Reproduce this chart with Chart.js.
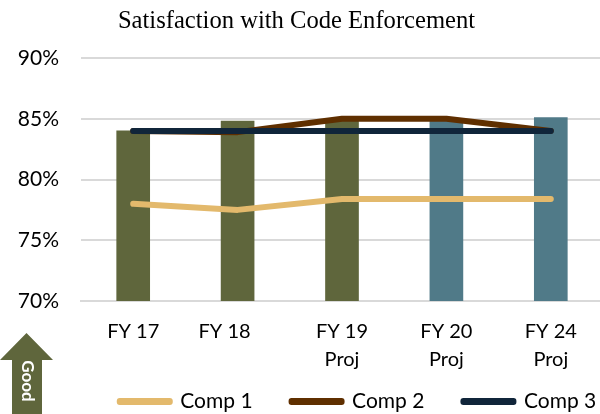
<!DOCTYPE html>
<html><head><meta charset="utf-8">
<style>html,body{margin:0;padding:0;background:#fff;overflow:hidden;width:600px;height:414px}
canvas{position:absolute;left:-10px;top:0}</style>
<script src="https://cdn.jsdelivr.net/npm/chart.js@4"></script>
</head><body>
<canvas id="c" width="613" height="414"></canvas>
<script>
const categories=[["FY 17"],["FY 18"],["FY 19","Proj"],["FY 20","Proj"],["FY 24","Proj"]];
const actual=[84,84.8,85,84.8,85.1];
const comp1=[78,77.5,78.4,78.4,78.4];
const comp2=[84,83.9,85,85,84];
const comp3=[84,84,84,84,84];
const tickLabels=["70%","75%","80%","85%","90%"];
const barColors=["#5f663c","#5f663c","#5f663c","#507a88","#507a88"];
const lineDs=(label,data,color,order)=>({type:'line',label,data,borderColor:color,backgroundColor:color,borderWidth:6,borderCapStyle:'round',borderJoinStyle:'round',pointRadius:0,tension:0,order,clip:false});
const goodArrow={id:'goodArrow',afterDraw(chart){
  const c=chart.ctx;c.save();c.translate(10,0);
  c.fillStyle='#5f663c';c.beginPath();
  c.moveTo(26.5,333);c.lineTo(53,360);c.lineTo(42,360);c.lineTo(42,414);c.lineTo(12,414);c.lineTo(12,360);c.lineTo(0,360);c.closePath();c.fill();
  c.translate(27,381);c.rotate(Math.PI/2);c.fillStyle='#fff';c.font='bold 17px Lato';c.textAlign='center';c.textBaseline='middle';c.fillText('Good',0,0);
  c.restore();
}};
const adjust={id:'adjust',afterLayout(chart){
  const l=chart.legend;l.left+=61.5;l.right+=61.5;l.top-=17;l.bottom=414;l.height=l.bottom-l.top;
},beforeDraw(chart){
  const items=chart.scales.x.getLabelItems();
  if(items[1]&&!items[1].moved){items[1].options.translation[0]-=13;items[1].moved=true;}
}};
new Chart(document.getElementById('c'),{
  type:'bar',
  data:{labels:categories,datasets:[
    {label:'Actual',data:actual,backgroundColor:barColors,barThickness:33,order:4},
    lineDs('Comp 1',comp1,'#e3b96c',3),
    lineDs('Comp 2',comp2,'#5f2f00',2),
    lineDs('Comp 3',comp3,'#10253a',1)
  ]},
  options:{responsive:false,animation:false,
    layout:{padding:0},
    plugins:{
      title:{display:true,text:'Satisfaction with Code Enforcement',color:'#000',font:{family:'"Liberation Serif"',size:24.6,weight:'normal',lineHeight:1.2},padding:{top:7,bottom:21.5}},
      legend:{position:'bottom',maxHeight:45,labels:{color:'#000',font:{family:'Lato',size:21},boxWidth:50,boxHeight:1,padding:39,
        generateLabels(chart){return chart.data.datasets.filter(d=>d.type==='line').map(d=>({text:d.label,fillStyle:d.borderColor,strokeStyle:d.borderColor,lineWidth:6,lineJoin:'round',fontColor:'#000',datasetIndex:chart.data.datasets.indexOf(d)}));}}},
      tooltip:{enabled:false}
    },
    scales:{
      x:{offset:true,grid:{display:false},border:{color:'#d9d9d9',width:2},
        ticks:{color:'#000',font:{family:'Lato',size:20,lineHeight:1.4},autoSkip:false,maxRotation:0,minRotation:0,padding:9},
        afterFit(s){s.height=68;}},
      y:{min:70,max:90,grid:{color:'#d9d9d9',lineWidth:2,tickLength:0,drawTicks:false},border:{display:false},
        ticks:{color:'#000',font:{family:'Lato',size:21},stepSize:5,padding:22,callback:(v)=>tickLabels[(v-70)/5]},
        afterFit(s){s.width=91;}}
    }
  },
  plugins:[goodArrow,adjust]
});
</script>
</body></html>
